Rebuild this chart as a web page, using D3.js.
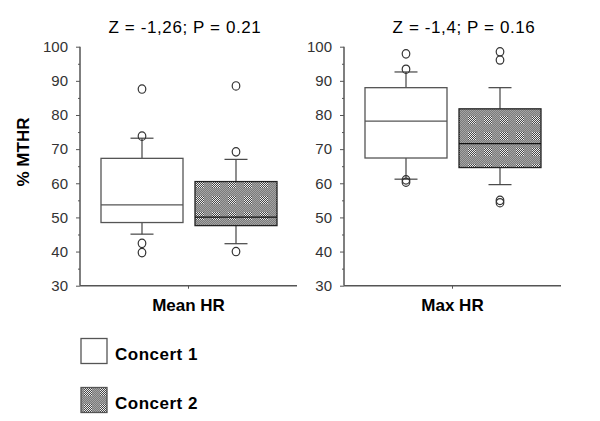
<!DOCTYPE html>
<html>
<head>
<meta charset="utf-8">
<script src="https://cdn.jsdelivr.net/npm/d3@7"></script>
<style>
  body { margin: 0; background: #fff; }
  text { font-family: "Liberation Sans", Arial, sans-serif; }
</style>
</head>
<body>
<div id="root"></div>
<script>
// data
var panels = ["Mean HR", "Max HR"];
var titles = ["Z = -1,26; P = 0.21", "Z = -1,4; P = 0.16"];
var groups = ["Concert 1", "Concert 2"];
var yTicks = [30, 40, 50, 60, 70, 80, 90, 100];

// [lower whisker, q1, median, q3, upper whisker]
var meanHR_c1 = [45.1, 48.5, 53.7, 67.3, 73.2];
var meanHR_c2 = [42.3, 47.6, 50.1, 60.5, 67.0];
var maxHR_c1 = [61.2, 67.4, 78.2, 88.0, 92.6];
var maxHR_c2 = [59.6, 64.6, 71.6, 81.8, 88.0];

var meanHR_c1_out = [87.6, 73.8, 42.4, 39.7];
var meanHR_c2_out = [88.5, 69.2, 40.0];
var maxHR_c1_out = [97.9, 93.4, 61.0, 60.3];
var maxHR_c2_out = [98.5, 96.1, 55.0, 54.3];

var boxes = [[meanHR_c1, meanHR_c2], [maxHR_c1, maxHR_c2]];
var outliers = [[meanHR_c1_out, meanHR_c2_out], [maxHR_c1_out, maxHR_c2_out]];

var width = 600, height = 421;

var svg = d3.select("#root")
    .append("svg")
    .attr("width", width)
    .attr("height", height);

// dithered grey fill
var defs = svg.append("defs");
function checker(id, a, b) {
    var p = defs.append("pattern")
        .attr("id", id)
        .attr("patternUnits", "userSpaceOnUse")
        .attr("width", 2).attr("height", 2);
    p.append("rect").attr("width", 2).attr("height", 2).attr("fill", a);
    p.append("rect").attr("width", 1).attr("height", 1).attr("fill", b);
    p.append("rect").attr("x", 1).attr("y", 1).attr("width", 1).attr("height", 1).attr("fill", b);
}
checker("lo", "#7c7c7c", "#a4a4a4");
checker("hi", "#474747", "#ececec");
var dots = defs.append("pattern")
    .attr("id", "dots")
    .attr("patternUnits", "userSpaceOnUse")
    .attr("width", 16).attr("height", 16);
dots.append("rect").attr("width", 16).attr("height", 16).attr("fill", "url(#lo)");
dots.append("rect").attr("x", 4).attr("y", 4).attr("width", 8).attr("height", 8).attr("fill", "url(#hi)");

var y = d3.scaleLinear().domain([30, 100]).range([285.7, 46.7]);

var axisLeft = [80, 344];
var axisLen = 217;
var titleX = [185, 464];
var fills = ["#ffffff", "url(#dots)"];
var medianColor = ["#555", "#111"];
var boxStroke = ["#555", "#222"];

panels.forEach(function (name, pi) {
    var x0 = axisLeft[pi];
    var g = svg.append("g");

    var x = d3.scaleBand().domain(groups).range([x0 + 15, x0 + 203]);
    var bw = 82;

    // y axis
    var ya = d3.axisLeft(y).tickValues(yTicks).tickSize(4).tickPadding(8)
        .tickFormat(d3.format("d"));
    var yg = g.append("g").attr("transform", "translate(" + x0 + ",0)").call(ya);
    yg.select(".domain").remove();
    yg.selectAll("line").attr("stroke", "#555");
    yg.selectAll("text").style("font-size", "15px").attr("fill", "#333");
    // minor ticks
    var ym = d3.axisLeft(y).tickValues(d3.range(35, 100, 10)).tickSize(2).tickFormat("");
    var ymg = g.append("g").attr("transform", "translate(" + x0 + ",0)").call(ym);
    ymg.select(".domain").remove();
    ymg.selectAll("line").attr("stroke", "#555");

    g.append("line")
        .attr("x1", x0).attr("x2", x0)
        .attr("y1", y(100)).attr("y2", y(30))
        .attr("stroke", "#555").attr("stroke-width", 1.5);
    g.append("line")
        .attr("x1", x0).attr("x2", x0 + axisLen)
        .attr("y1", y(30)).attr("y2", y(30))
        .attr("stroke", "#555").attr("stroke-width", 1.5);
    g.append("line")
        .attr("x1", x0 + axisLen / 2).attr("x2", x0 + axisLen / 2)
        .attr("y1", y(30)).attr("y2", y(30) + 3)
        .attr("stroke", "#555");

    g.append("text")
        .attr("x", x0 + axisLen / 2).attr("y", 311)
        .attr("text-anchor", "middle")
        .style("font-size", "17px").style("font-weight", "bold")
        .text(name);

    g.append("text")
        .attr("x", titleX[pi]).attr("y", 33)
        .attr("text-anchor", "middle")
        .style("font-size", "17px").style("letter-spacing", "0.6px")
        .text(titles[pi]);

    groups.forEach(function (grp, gi) {
        var s = boxes[pi][gi];
        var cx = x(grp) + x.bandwidth() / 2;
        var gg = g.append("g");
        // whiskers
        gg.append("line").attr("x1", cx).attr("x2", cx)
            .attr("y1", y(s[0])).attr("y2", y(s[1])).attr("stroke", "#444").attr("stroke-width", 1.2);
        gg.append("line").attr("x1", cx).attr("x2", cx)
            .attr("y1", y(s[3])).attr("y2", y(s[4])).attr("stroke", "#444").attr("stroke-width", 1.2);
        [s[0], s[4]].forEach(function (v) {
            gg.append("line").attr("x1", cx - 11.5).attr("x2", cx + 11.5)
                .attr("y1", y(v)).attr("y2", y(v)).attr("stroke", "#444").attr("stroke-width", 1.2);
        });
        gg.append("rect")
            .attr("x", cx - bw / 2).attr("width", bw)
            .attr("y", y(s[3])).attr("height", y(s[1]) - y(s[3]))
            .attr("fill", fills[gi]).attr("stroke", boxStroke[gi]).attr("stroke-width", 1.3);
        gg.append("line").attr("x1", cx - bw / 2).attr("x2", cx + bw / 2)
            .attr("y1", y(s[2])).attr("y2", y(s[2]))
            .attr("stroke", medianColor[gi]).attr("stroke-width", 1.3);
        gg.selectAll("ellipse.out")
            .data(outliers[pi][gi])
            .enter().append("ellipse")
            .attr("class", "out")
            .attr("cx", cx).attr("cy", function (d) { return y(d); })
            .attr("rx", 3.8).attr("ry", 4.2)
            .attr("fill", "none").attr("stroke", "#333").attr("stroke-width", 1.2);
    });
});

// y label
svg.append("text")
    .attr("transform", "translate(29,152) rotate(-90)")
    .attr("text-anchor", "middle")
    .style("font-size", "17px").style("font-weight", "bold")
    .text("% MTHR");

// legend
var legY = [338.5, 387.5];
groups.forEach(function (grp, gi) {
    svg.append("rect")
        .attr("x", 81).attr("y", legY[gi])
        .attr("width", 26).attr("height", 25)
        .attr("fill", fills[gi]).attr("stroke", "#555").attr("stroke-width", 1.3);
    svg.append("text")
        .attr("x", 115).attr("y", legY[gi] + 21.5)
        .style("font-size", "17px").style("font-weight", "bold")
        .style("letter-spacing", "0.5px")
        .text(grp);
});
</script>
</body>
</html>
